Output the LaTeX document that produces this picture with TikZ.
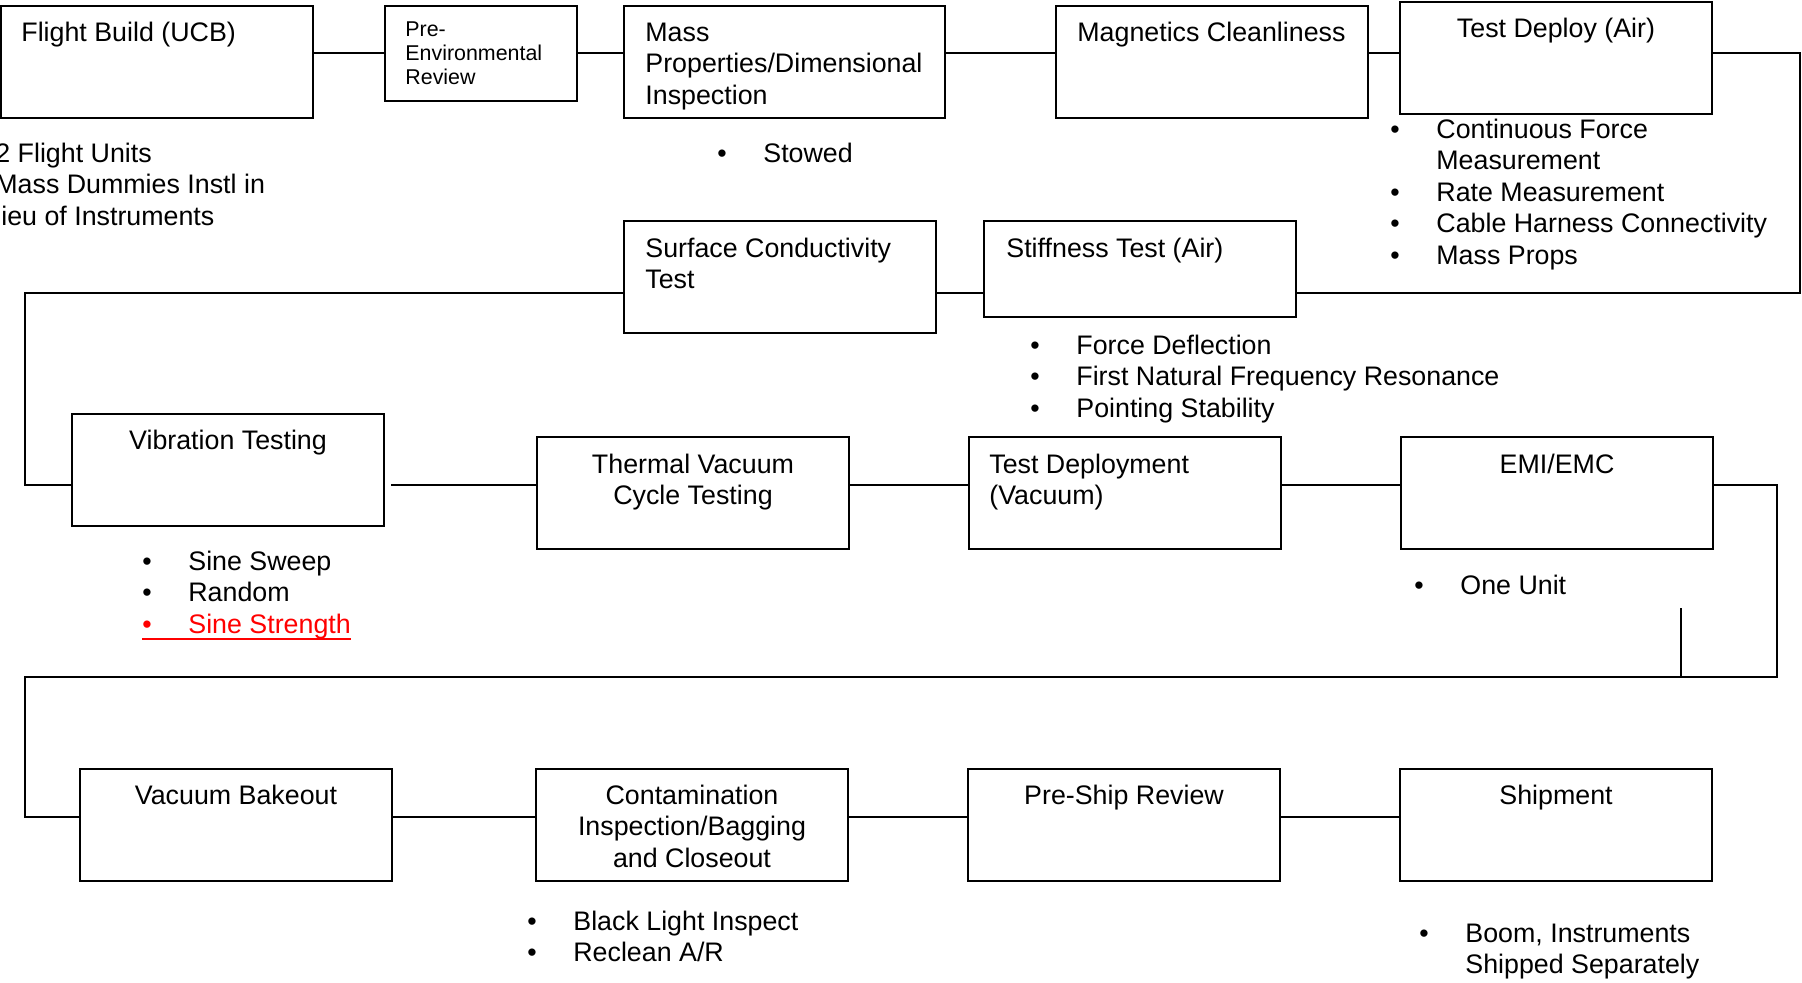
\documentclass[tikz,border=0pt]{standalone}
\usepackage{fontspec}
\setmainfont{Liberation Sans}
\usetikzlibrary{positioning}

\newcommand{\itemlist}[1]{\begin{tabular}[t]{@{}p{23pt}@{}l@{}}#1\end{tabular}}
\newcommand{\leftlines}[1]{\begin{tabular}[t]{@{}l@{}}#1\end{tabular}}
\newcommand{\midlines}[1]{\begin{tabular}[t]{@{}c@{}}#1\end{tabular}}
\newcommand{\redline}[1]{\setbox0\hbox{#1}\rlap{\rule[-3.5pt]{\wd0}{1pt}}\box0}

\tikzset{
  box/.style={draw, line width=1pt, anchor=north west, inner sep=0pt, outer sep=0pt,
    minimum width=156pt, minimum height=56pt},
  lbl/.style={anchor=base west, inner sep=0pt, font=\fontsize{13.4}{15.75}\selectfont},
  clbl/.style={lbl, anchor=base},
  small/.style={lbl, font=\fontsize{10.7}{12}\selectfont},
  link/.style={line width=1pt},
}

\begin{document}
\begin{tikzpicture}[x=0.5pt, y=-0.5pt]
  \useasboundingbox (0,0) rectangle (1802,982);

  % rails of the flow
  \coordinate (r1) at (0,53);
  \coordinate (r2) at (0,293);
  \coordinate (r3) at (0,485);
  \coordinate (r4) at (0,677);
  \coordinate (r5) at (0,817);
  \coordinate (xl) at (25,0);
  \coordinate (xr1) at (1800,0);
  \coordinate (xr2) at (1777,0);
  \coordinate (tick) at (1681,608);

  % row 1
  \node[box] (fb) at (1,6) {};
  \node[box, minimum width=96pt, minimum height=47.5pt] (per) at (385,6) {};
  \node[box, minimum width=160.5pt] (mass) at (624,6) {};
  \node[box] (mag) at (1056,6) {};
  \node[box] (tda) at (1400,2) {};

  % row 2
  \node[box] (surf) at (624,221) {};
  \node[box, minimum height=48pt] (stiff) at (984,221) {};

  % row 3
  \node[box] (vib) at (72,414) {};
  \node[box] (tvac) at (537,437) {};
  \node[box, right=60pt of tvac] (tdv) {};
  \node[box, right=60pt of tdv] (emi) {};

  % row 4
  \node[box] (vbo) at (80,769) {};
  \node[box, right=72pt of vbo] (cont) {};
  \node[box, right=60pt of cont] (psr) {};
  \node[box, right=60pt of psr] (ship) {};

  % titles
  \node[lbl] (fbt) at ([shift={(10pt,-17.5pt)}]fb.north west) {Flight Build (UCB)};
  \node[small] (pert) at ([shift={(10pt,-15pt)}]per.north west) {\leftlines{Pre-\\Environmental\\Review}};
  \node[lbl] (masst) at ([shift={(10.5pt,-17.5pt)}]mass.north west) {\leftlines{Mass\\Properties/Dimensional\\Inspection}};
  \node[lbl] (magt) at ([shift={(10.5pt,-17.5pt)}]mag.north west) {Magnetics Cleanliness};
  \node[clbl] (tdat) at ([yshift=-17.5pt]tda.north) {Test Deploy (Air)};
  \node[lbl] (surft) at ([shift={(10.5pt,-18pt)}]surf.north west) {\leftlines{Surface Conductivity\\Test}};
  \node[lbl] (stifft) at ([shift={(11pt,-18pt)}]stiff.north west) {Stiffness Test (Air)};
  \node[clbl] (vibt) at ([yshift=-17.5pt]vib.north) {Vibration Testing};
  \node[clbl] (tvact) at ([yshift=-18pt]tvac.north) {\midlines{Thermal Vacuum\\Cycle Testing}};
  \node[lbl] (tdvt) at ([shift={(10pt,-18pt)}]tdv.north west) {\leftlines{Test Deployment\\(Vacuum)}};
  \node[clbl] (emit) at ([yshift=-18pt]emi.north) {EMI/EMC};
  \node[clbl] (vbot) at ([yshift=-17.5pt]vbo.north) {Vacuum Bakeout};
  \node[clbl] (contt) at ([yshift=-17.5pt]cont.north) {\midlines{Contamination\\Inspection/Bagging\\and Closeout}};
  \node[clbl] (psrt) at ([yshift=-17.5pt]psr.north) {Pre-Ship Review};
  \node[clbl] (shipt) at ([yshift=-17.5pt]ship.north) {Shipment};

  % notes
  \node[lbl] (fbnotes) at (-5,162) {\leftlines{2 Flight Units\\Mass Dummies Instl in\\lieu of Instruments}};
  \node[lbl] (massnotes) at (717,162) {\itemlist{\textbullet&Stowed}};
  \node[lbl] (tdanotes) at (1390,138) {\itemlist{\textbullet&Continuous Force\\&Measurement\\\textbullet&Rate Measurement\\\textbullet&Cable Harness Connectivity\\\textbullet&Mass Props}};
  \node[lbl] (stiffnotes) at (1030,354) {\itemlist{\textbullet&Force Deflection\\\textbullet&First Natural Frequency Resonance\\\textbullet&Pointing Stability}};
  \node[lbl] (vibnotes) at (142,570) {\itemlist{\textbullet&Sine Sweep\\\textbullet&Random\\\multicolumn{2}{@{}l@{}}{\color{red}\redline{\makebox[23pt][l]{\textbullet}Sine Strength}}}};
  \node[lbl] (eminotes) at (1414,594) {\itemlist{\textbullet&One Unit}};
  \node[lbl] (contnotes) at (527,930) {\itemlist{\textbullet&Black Light Inspect\\\textbullet&Reclean A/R}};
  \node[lbl] (shipnotes) at (1419,942) {\itemlist{\textbullet&Boom, Instruments\\&Shipped Separately}};

  % connectors
  \draw[link] (fb.east |- r1) -- (per.west |- r1);
  \draw[link] (per.east |- r1) -- (mass.west |- r1);
  \draw[link] (mass.east |- r1) -- (mag.west |- r1);
  \draw[link] (mag.east |- r1) -- (tda.west |- r1);
  \draw[link] (tda.east |- r1) -- (xr1 |- r1) -- (xr1 |- r2) -- (stiff.east |- r2);
  \draw[link] (stiff.west |- r2) -- (surf.east |- r2);
  \draw[link] (surf.west |- r2) -- (xl |- r2) -- (xl |- r3) -- (vib.west |- r3);
  \draw[link] (vib.east |- r3) ++(3.5pt,0) -- (tvac.west |- r3);
  \draw[link] (tvac.east |- r3) -- (tdv.west |- r3);
  \draw[link] (tdv.east |- r3) -- (emi.west |- r3);
  \draw[link] (emi.east |- r3) -- (xr2 |- r3) -- (xr2 |- r4) -- (xl |- r4) -- (xl |- r5) -- (vbo.west |- r5);
  \draw[link] (tick) -- (tick |- r4);
  \draw[link] (vbo.east |- r5) -- (cont.west |- r5);
  \draw[link] (cont.east |- r5) -- (psr.west |- r5);
  \draw[link] (psr.east |- r5) -- (ship.west |- r5);
\end{tikzpicture}
\end{document}
